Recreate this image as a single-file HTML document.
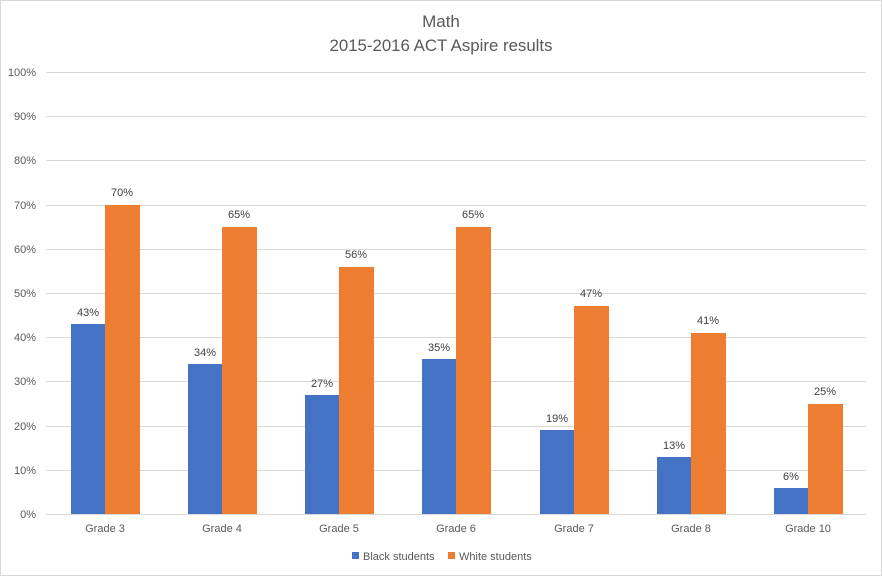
<!DOCTYPE html>
<html><head><meta charset="utf-8"><style>body{margin:0;background:#fff}svg{display:block}</style></head><body>
<svg width="882" height="576" xmlns="http://www.w3.org/2000/svg" font-family="Liberation Sans, sans-serif">
<rect x="0.5" y="0.5" width="881" height="575" fill="#fff" stroke="#d9d9d9"/>
<text x="441" y="27" text-anchor="middle" font-size="17" fill="#595959">Math</text>
<text x="441" y="51" text-anchor="middle" font-size="17" fill="#595959" textLength="223" lengthAdjust="spacingAndGlyphs">2015-2016 ACT Aspire results</text>
<g stroke="#d9d9d9" stroke-width="1">
<line x1="46" x2="866" y1="72.5" y2="72.5"/><line x1="46" x2="866" y1="116.5" y2="116.5"/><line x1="46" x2="866" y1="160.5" y2="160.5"/><line x1="46" x2="866" y1="205.5" y2="205.5"/><line x1="46" x2="866" y1="249.5" y2="249.5"/><line x1="46" x2="866" y1="293.5" y2="293.5"/><line x1="46" x2="866" y1="337.5" y2="337.5"/><line x1="46" x2="866" y1="381.5" y2="381.5"/><line x1="46" x2="866" y1="426.5" y2="426.5"/><line x1="46" x2="866" y1="470.5" y2="470.5"/><line x1="46" x2="866" y1="514.5" y2="514.5"/>
</g>
<g font-size="11" fill="#595959" text-anchor="end">
<text x="36" y="76">100%</text><text x="36" y="120">90%</text><text x="36" y="164">80%</text><text x="36" y="209">70%</text><text x="36" y="253">60%</text><text x="36" y="297">50%</text><text x="36" y="341">40%</text><text x="36" y="385">30%</text><text x="36" y="430">20%</text><text x="36" y="474">10%</text><text x="36" y="518">0%</text>
</g>
<g id="bars"></g>
<g font-size="11" fill="#595959" text-anchor="middle">
<text x="105" y="532">Grade 3</text><text x="222" y="532">Grade 4</text><text x="339" y="532">Grade 5</text><text x="456" y="532">Grade 6</text><text x="574" y="532">Grade 7</text><text x="691" y="532">Grade 8</text><text x="808" y="532">Grade 10</text>
</g>
<g fill="#4472c4">
<rect x="71" y="324" width="34" height="190"/><rect x="188" y="364" width="34" height="150"/><rect x="305" y="395" width="34" height="119"/><rect x="422" y="359" width="34" height="155"/><rect x="540" y="430" width="34" height="84"/><rect x="657" y="457" width="34" height="57"/><rect x="774" y="488" width="34" height="26"/>
</g>
<g fill="#ed7d31">
<rect x="105" y="205" width="35" height="309"/><rect x="222" y="227" width="35" height="287"/><rect x="339" y="267" width="35" height="247"/><rect x="456" y="227" width="35" height="287"/><rect x="574" y="306" width="35" height="208"/><rect x="691" y="333" width="35" height="181"/><rect x="808" y="404" width="35" height="110"/>
</g>
<g font-size="11" fill="#404040" text-anchor="middle">
<text x="88" y="316">43%</text><text x="205" y="356">34%</text><text x="322" y="387">27%</text><text x="439" y="351">35%</text><text x="557" y="422">19%</text><text x="674" y="449">13%</text><text x="791" y="480">6%</text>
<text x="122" y="196">70%</text><text x="239" y="218">65%</text><text x="356" y="258">56%</text><text x="473" y="218">65%</text><text x="591" y="297">47%</text><text x="708" y="324">41%</text><text x="825" y="395">25%</text>
</g>
<rect x="352" y="552" width="7" height="7" fill="#4472c4"/>
<text x="363" y="560" font-size="11" fill="#595959">Black students</text>
<rect x="448" y="552" width="7" height="7" fill="#ed7d31"/>
<text x="459" y="560" font-size="11" fill="#595959">White students</text>
</svg>
</body></html>
